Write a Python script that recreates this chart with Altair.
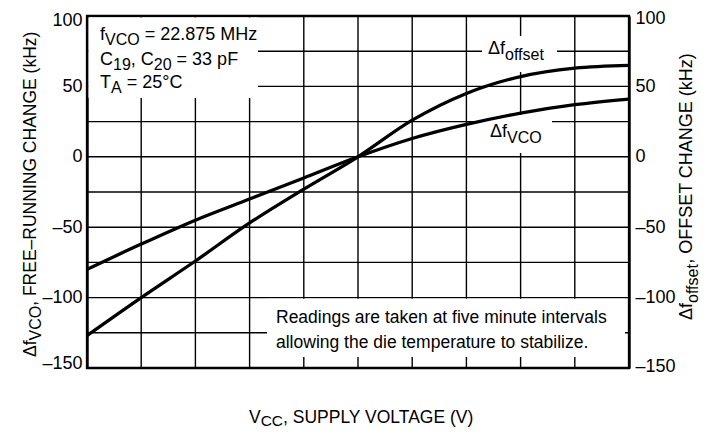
import altair as alt
import pandas as pd

# ---------------- data ----------------
VCC = [4.5, 4.6, 4.7, 4.8, 4.9, 5.0, 5.1, 5.2, 5.3, 5.4, 5.5]
DF_VCO = [-80, -62, -45, -30, -15, 0, 13, 23, 31, 37, 41]
DF_OFFSET = [-127, -100, -74, -47, -23, 0, 26, 45, 57, 63, 65]

X_GRID = [4.5, 4.6, 4.7, 4.8, 4.9, 5.0, 5.1, 5.2, 5.3, 5.4, 5.5]
X_TICKS = [4.5, 4.7, 4.9, 5.1, 5.3, 5.5]
Y_GRID = [-150, -125, -100, -75, -50, -25, 0, 25, 50, 75, 100]
Y_TICKS = [-150, -100, -50, 0, 50, 100]

XMIN, XMAX = 4.5, 5.5
YMIN, YMAX = -150, 100

# ---------------- layout ----------------
W, H = 542, 352          # plot area
OX, OY = 87, 16          # plot origin on the page
PAD = {"left": OX - 8, "top": OY - 8, "right": 699 - (OX - 8) - W, "bottom": 421 - (OY - 8) - H}
FONT = "Liberation Sans"


def xv(px):
    return XMIN + (px - OX) / W * (XMAX - XMIN)


def yv(py):
    return YMAX - (py - OY) / H * (YMAX - YMIN)


AW = {" ": 278, ",": 278, ".": 278, "=": 584, "°": 400, "(": 333, ")": 333, "–": 556, "Δ": 667}
for c in "0123456789":
    AW[c] = 556
AW.update(dict(zip("abcdefghijklmnopqrstuvwxyz",
                   [556, 556, 500, 556, 556, 278, 556, 556, 222, 222, 500, 222, 833,
                    556, 556, 556, 556, 333, 500, 278, 556, 500, 722, 500, 500, 500])))
AW.update(dict(zip("ABCDEFGHIJKLMNOPQRSTUVWXYZ",
                   [667, 667, 722, 722, 667, 611, 778, 722, 278, 500, 667, 556, 833,
                    722, 778, 667, 778, 722, 667, 611, 722, 667, 944, 667, 667, 611])))


def tw(s, fs):
    return sum(AW.get(c, 556) for c in s) / 1000.0 * fs


rows = []


def hrun(parts, sx, sy):
    x = sx
    for text, fs, dy in parts:
        lead = len(text) - len(text.lstrip(" "))
        x0 = x + tw(" " * lead, fs)       # leading blanks are trimmed when drawn
        rows.append({"t": text.strip(" "), "tx": xv(x0), "ty": yv(sy + dy), "fs": fs, "ang": 0})
        x += tw(text, fs)


def vrun(parts, sx, sy):
    y = sy
    for text, fs, dx in parts:
        rows.append({"t": text, "tx": xv(sx + dx), "ty": yv(y), "fs": fs, "ang": 270})
        y -= tw(text, fs)


# legend box
hrun([("f", 18, 0), ("VCO", 16, 5), (" = 22.875 MHz", 18, 0)], 100, 40)
hrun([("C", 18, 0), ("19", 16, 5), (", C", 18, 0), ("20", 16, 5), (" = 33 pF", 18, 0)], 100, 65)
hrun([("T", 18, 0), ("A", 16, 5), (" = 25°C", 18, 0)], 100, 88)
# curve labels
hrun([("Δf", 18, 0), ("offset", 16, 6)], 488, 54)
hrun([("Δf", 18, 0), ("VCO", 16, 6)], 490, 137)
# note
hrun([("Readings are taken at five minute intervals", 17.5, 0)], 276, 323)
hrun([("allowing the die temperature to stabilize.", 17.5, 0)], 276, 348)
# x title
hrun([("V", 17.5, 0), ("CC", 15.5, 3), (", SUPPLY VOLTAGE (V)", 17.5, 0)], 249, 423)
# y titles
vrun([("Δf", 17.5, 0), ("VCO", 16, 5), (", FREE–RUNNING CHANGE (kHz)", 17.5, 0)], 36, 357)
vrun([("Δf", 18, 0), ("offset", 16, 6), (", OFFSET CHANGE (kHz)", 18, 0)], 692, 320)

text_df = pd.DataFrame(rows)

# white boxes behind annotations (page px)
BOXES = [(88.5, 258, 17.5, 98), (482, 557, 36, 72), (482, 552, 115, 153), (267, 625, 298.8, 357)]
box_df = pd.DataFrame([{"x1": xv(a), "x2": xv(b), "y1": yv(c), "y2": yv(d)} for a, b, c, d in BOXES])

curve_df = pd.DataFrame(
    [{"vcc": v, "khz": k, "series": "offset"} for v, k in zip(VCC, DF_OFFSET)]
    + [{"vcc": v, "khz": k, "series": "vco"} for v, k in zip(VCC, DF_VCO)]
)

xs = alt.Scale(domain=[XMIN, XMAX], nice=False, zero=False)
ys = alt.Scale(domain=[YMIN, YMAX], nice=False, zero=False)

LABEL_EXPR = "datum.value < 0 ? '–' + format(-datum.value, 'd') : format(datum.value, 'd')"
common_axis = dict(grid=False, ticks=False, domainColor="black", domainWidth=2.4,
                   labelFont=FONT, labelFontSize=18, labelColor="black", title=None,
                   labelOverlap=False)

x_axis = alt.Axis(values=X_TICKS, format=".1f", labelPadding=7, labelFlush=False, **common_axis)
left_axis = alt.Axis(values=Y_TICKS, labelExpr=LABEL_EXPR, labelPadding=5, orient="left",
                     labelFlush=True, labelFlushOffset=4.5, **common_axis)
right_axis = alt.Axis(values=Y_TICKS, labelExpr=LABEL_EXPR, labelPadding=6, orient="right",
                      labelFlush=True, labelFlushOffset=7, **common_axis)

vgrid = alt.Chart(pd.DataFrame({"v": X_GRID})).mark_rule(color="black", strokeWidth=1.4).encode(
    x=alt.X("v:Q", scale=xs, axis=x_axis)
)
hgrid = alt.Chart(pd.DataFrame({"k": Y_GRID})).mark_rule(color="black", strokeWidth=1.4).encode(
    y=alt.Y("k:Q", scale=ys, axis=left_axis)
)
boxes = alt.Chart(box_df).mark_rect(color="white").encode(
    x=alt.X("x1:Q", scale=xs, axis=None), x2="x2:Q",
    y=alt.Y("y1:Q", scale=ys, axis=None), y2="y2:Q",
)
curves = alt.Chart(curve_df).mark_line(color="black", strokeWidth=3.3, interpolate="monotone").encode(
    x=alt.X("vcc:Q", scale=xs, axis=None),
    y=alt.Y("khz:Q", scale=ys, axis=None),
    detail="series:N",
)
right = alt.Chart(curve_df).mark_line(opacity=0).encode(
    x=alt.X("vcc:Q", scale=xs, axis=None),
    y=alt.Y("khz:Q", scale=ys, axis=right_axis),
    detail="series:N",
)
texts = alt.Chart(text_df).mark_text(align="left", baseline="alphabetic", font=FONT, color="black").encode(
    x=alt.X("tx:Q", scale=xs, axis=None),
    y=alt.Y("ty:Q", scale=ys, axis=None),
    text="t:N",
    size=alt.Size("fs:Q", scale=None, legend=None),
    angle=alt.Angle("ang:Q", scale=None),
)

chart = (
    alt.layer(vgrid, hgrid, boxes, curves, right, texts)
    .resolve_axis(y="independent")
    .properties(width=W, height=H, padding=PAD, autosize=alt.AutoSizeParams(type="none"), background="white")
    .configure_view(stroke="black", strokeWidth=2.3)
)

chart.save("out.html", embed_options={"renderer": "svg", "actions": False})
